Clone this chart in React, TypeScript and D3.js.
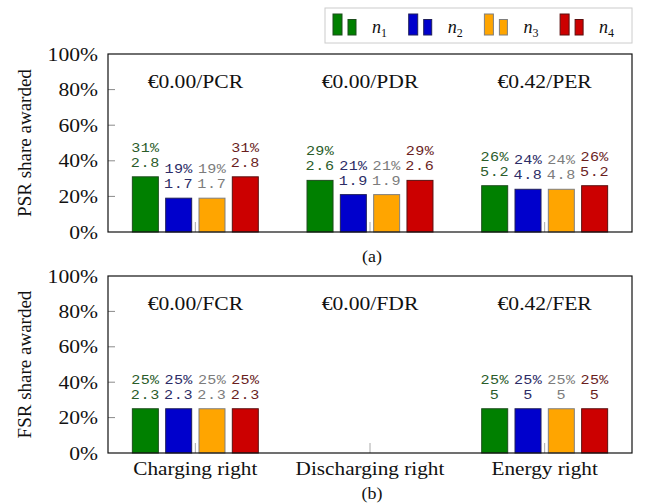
import React from "react";
import * as d3 from "d3";

// Categories along the x axis of each panel
const categoriesA = ["PCR", "PDR", "PER"];
const categoriesB = ["Charging right", "Discharging right", "Energy right"];
const titlesA = ["€0.00/PCR", "€0.00/PDR", "€0.42/PER"];
const titlesB = ["€0.00/FCR", "€0.00/FDR", "€0.42/FER"];

// Series (participants)
const series = ["n1", "n2", "n3", "n4"];

// Panel (a): PSR share (%) and the awarded amount per series
const shareA: (number | null)[][] = [
  [31, 19, 19, 31],
  [29, 21, 21, 29],
  [26, 24, 24, 26],
];
const amountA: (string | null)[][] = [
  ["2.8", "1.7", "1.7", "2.8"],
  ["2.6", "1.9", "1.9", "2.6"],
  ["5.2", "4.8", "4.8", "5.2"],
];

// Panel (b): FSR share (%) and amount; no discharging rights awarded
const shareB: (number | null)[][] = [
  [25, 25, 25, 25],
  [null, null, null, null],
  [25, 25, 25, 25],
];
const amountB: (string | null)[][] = [
  ["2.3", "2.3", "2.3", "2.3"],
  [null, null, null, null],
  ["5", "5", "5", "5"],
];

const yTicks = [0, 20, 40, 60, 80, 100];

const fills = ["#008000", "#0000cc", "#ffa500", "#cc0000"];
const strokes = ["#1d4d1d", "#20205a", "#7f7f7f", "#5a1010"];
const textColors = ["#2a5c2a", "#2c2c66", "#7c7c7c", "#6a1e1e"];

const SERIF = "'Liberation Serif', 'Times New Roman', serif";
const MONO = "'Liberation Mono', 'DejaVu Sans Mono', monospace";
const SX = 1.18; // horizontal widening of the serif type

const X0 = 108;
const X1 = 632;

type TProps = {
  x: number;
  y: number;
  sx?: number;
  anchor?: "start" | "middle" | "end";
  size: number;
  family?: string;
  fill?: string;
  style?: string;
  spacing?: number;
  children: React.ReactNode;
};

function T({ x, y, sx = SX, anchor = "middle", size, family = SERIF, fill = "#111", style, spacing, children }: TProps) {
  return (
    <text
      transform={`translate(${x},${y}) scale(${sx},1)`}
      textAnchor={anchor}
      fontFamily={family}
      fontSize={size}
      fontStyle={style}
      letterSpacing={spacing}
      fill={fill}
    >
      {children}
    </text>
  );
}

type PanelProps = {
  top: number;
  bottom: number;
  categories: string[];
  titles: string[];
  share: (number | null)[][];
  amount: (string | null)[][];
  yLabel: string;
  showXLabels: boolean;
  caption: string;
  captionY: number;
};

function Panel({ top, bottom, categories, titles, share, amount, yLabel, showXLabels, caption, captionY }: PanelProps) {
  const x = d3.scaleBand<string>().domain(categories).range([X0, X1]).padding(0);
  const y = d3.scaleLinear().domain([0, 100]).range([bottom, top]);
  const groupW = x.bandwidth() * 0.763;
  const inner = d3.scaleBand<string>().domain(series).range([-groupW / 2, groupW / 2]).padding(0);
  const barW = 26;

  return (
    <g>
      {/* y ticks */}
      {yTicks.map((t) => (
        <g key={t}>
          {t > 0 && t < 100 && (
            <line x1={X0} x2={X0 + 7} y1={y(t)} y2={y(t)} stroke="#8a8a8a" strokeWidth={1} />
          )}
          <T x={98} y={y(t) + 6.5} anchor="end" size={18} sx={1.2}>
            {t}%
          </T>
        </g>
      ))}
      {/* x ticks */}
      {categories.map((c) => {
        const cx = (x(c) as number) + x.bandwidth() / 2;
        return <line key={c} x1={cx} x2={cx} y1={bottom} y2={bottom - 10} stroke="#aaaaaa" strokeWidth={1} />;
      })}
      {/* bars */}
      {categories.map((c, ci) => {
        const cx = (x(c) as number) + x.bandwidth() / 2;
        return (
          <g key={c}>
            {series.map((s, si) => {
              const v = share[ci][si];
              if (v === null) return null;
              const bx = cx + (inner(s) as number) + inner.bandwidth() / 2 - barW / 2;
              const by = y(v);
              const tc = bx + barW / 2;
              return (
                <g key={s}>
                  <rect x={bx} y={by} width={barW} height={bottom - by} fill={fills[si]} stroke={strokes[si]} strokeWidth={1} />
                  <T x={tc} y={by - 10} size={13.5} family={MONO} sx={1.12} spacing={0.6} fill={textColors[si]}>
                    {amount[ci][si]}
                  </T>
                  <T x={tc} y={by - 25} size={13.5} family={MONO} sx={1.12} spacing={0.3} fill={textColors[si]}>
                    {v}%
                  </T>
                </g>
              );
            })}
            <T x={cx} y={top + 33.5} size={18} sx={1.2}>
              {titles[ci]}
            </T>
            {showXLabels && (
              <T x={cx} y={bottom + 22} size={18}>
                {c}
              </T>
            )}
          </g>
        );
      })}
      {/* frame */}
      <rect x={X0} y={top} width={X1 - X0} height={bottom - top} fill="none" stroke="#111" strokeWidth={1.2} />
      <text
        transform={`translate(31,${(top + bottom) / 2}) rotate(-90)`}
        textAnchor="middle"
        fontFamily={SERIF}
        fontSize={19}
        fill="#111"
      >
        {yLabel}
      </text>
      <T x={372} y={captionY} size={16} sx={1.12}>
        {caption}
      </T>
    </g>
  );
}

function Legend() {
  const x0 = 325;
  const step = 75.7;
  return (
    <g>
      <rect x={x0} y={8} width={X1 - x0} height={35} fill="#fff" stroke="#cccccc" strokeWidth={1} />
      {series.map((s, i) => {
        const lx = x0 + 8 + i * step;
        return (
          <g key={s}>
            <rect x={lx} y={14} width={9} height={21} fill={fills[i]} stroke={strokes[i]} strokeWidth={1} />
            <rect x={lx + 15} y={19.5} width={8} height={15.5} fill={fills[i]} stroke={strokes[i]} strokeWidth={1} />
            <text x={lx + 39} y={33} fontFamily={SERIF} fontSize={18} fontStyle="italic" fill="#111">
              n
              <tspan fontStyle="normal" fontSize={12} dy={4}>
                {s.slice(1)}
              </tspan>
            </text>
          </g>
        );
      })}
    </g>
  );
}

export default function App() {
  return (
    <svg width={646} height={504} style={{ position: "absolute", left: 0, top: 0, background: "#fff" }}>
      <rect width={646} height={504} fill="#fff" />
      <Legend />
      <Panel
        top={54}
        bottom={232}
        categories={categoriesA}
        titles={titlesA}
        share={shareA}
        amount={amountA}
        yLabel="PSR share awarded"
        showXLabels={false}
        caption="(a)"
        captionY={262}
      />
      <Panel
        top={276}
        bottom={453}
        categories={categoriesB}
        titles={titlesB}
        share={shareB}
        amount={amountB}
        yLabel="FSR share awarded"
        showXLabels={true}
        caption="(b)"
        captionY={499}
      />
    </svg>
  );
}
